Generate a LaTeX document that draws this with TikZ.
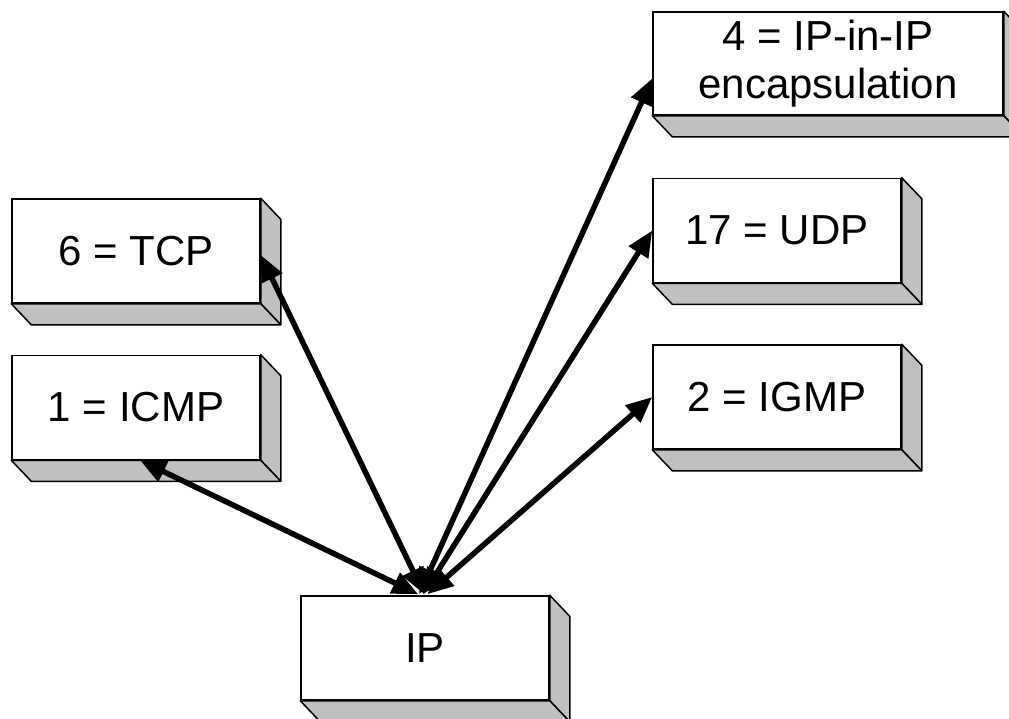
\documentclass[tikz,border=0pt]{standalone}
\usepackage{fontspec}
\setmainfont{Liberation Sans}
\usetikzlibrary{arrows.meta,calc}
\definecolor{sidegray}{RGB}{192,192,192}
\begin{document}
\begin{tikzpicture}[x=1pt,y=-1pt,
  box/.style={draw=black,line width=1.5pt,fill=white,minimum width=248pt,minimum height=104pt,inner sep=0pt,align=center,font=\fontsize{42}{48}\selectfont},
  side/.style={fill=sidegray,draw=black,line width=1.5pt,line join=round},
  link/.style={line width=5.5pt,{Triangle[length=26pt,width=22pt]}-{Triangle[length=26pt,width=22pt]}}]
\useasboundingbox (0,0) rectangle (1009,718);
\node[box] (tcp) at (136,251) {6 = TCP};
\node[box] (icmp) at (136,407.5) {1 = ICMP};
\node[box] (ip) at (425,648) {IP};
\node[box,minimum width=350pt,minimum height=103pt] (ipinip) at (828,63.5) {4 = IP-in-IP\\encapsulation};
\node[box] (udp) at (777,230.5) {17 = UDP};
\node[box] (igmp) at (777,397) {2 = IGMP};
\foreach \n in {tcp,icmp,ip,ipinip,udp,igmp}{
  \filldraw[side] (\n.north east) -- ++(20,21) -- ($(\n.south east)+(20,21)$) -- (\n.south east) -- cycle;
  \filldraw[side] (\n.south west) -- ++(20,21) -- ($(\n.south east)+(20,21)$) -- (\n.south east) -- cycle;
}
\draw[link] ($(ip.north west)+(118,-1)$) -- ($(icmp.south west)!0.516!(icmp.south east)$);
\draw[link] ($(ip.north west)+(124,-1)$) -- ($(tcp.east)+(0,4)$);
\draw[link] ($(ip.north west)+(119,-1)$) -- ($(ipinip.west)+(0,15)$);
\draw[link] ($(ip.north west)+(123,-1)$) -- (udp.west);
\draw[link] ($(ip.north west)+(127,-1)$) -- (igmp.west);
\end{tikzpicture}
\end{document}
